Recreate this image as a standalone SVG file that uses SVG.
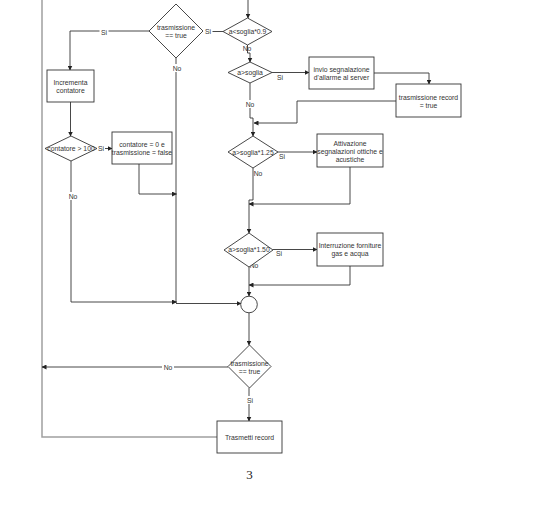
<svg xmlns="http://www.w3.org/2000/svg" width="546" height="508" viewBox="0 0 546 508">
<style>
.bg{fill:#fff}
.n{fill:#fff;stroke:#333;stroke-width:0.9}
.c{fill:none;stroke:#333;stroke-width:0.9}
.g{fill:none;stroke:#a0a0a0;stroke-width:1.5}
.a{marker-end:url(#ah)}
text{font-family:"Liberation Sans",Arial,sans-serif;font-size:6.8px;fill:#333;text-anchor:middle;dominant-baseline:central}
.lbg{fill:#fff}
.pg{font-family:"Liberation Serif","Times New Roman",serif;font-size:13px;fill:#222}
</style>
<defs>
<marker id="ah" markerUnits="userSpaceOnUse" markerWidth="5" markerHeight="5" refX="4.5" refY="2.5" orient="auto">
<path d="M0,0 L5,2.5 L0,5 z" fill="#222"/>
</marker>
</defs>
<rect class="bg" x="0" y="0" width="546" height="508"/>
<g id="connectors">
<path class="g" d="M42,0 V437 H217"/>
<path class="c a" d="M248,0 V18"/>
<path class="c a" d="M223,31.5 H204"/>
<path class="c a" d="M149,31 H70 V70"/>
<path class="c a" d="M70.5,102 V136"/>
<path class="c a" d="M97,148.5 H112"/>
<path class="c a" d="M139,164 V194 H176.5"/>
<path class="c" d="M176,58 V303"/>
<path class="c a" d="M71,161 V302 H176.5"/>
<path class="c a" d="M176,303.5 H241"/>
<path class="c a" d="M247.5,45 V53 H250 V62"/>
<path class="c a" d="M272,72.5 H309"/>
<path class="c a" d="M374,73 H429 V84"/>
<path class="c a" d="M396,101 H297 V123 H254"/>
<path class="c a" d="M250,83 V118 H253 V136"/>
<path class="c a" d="M278,152 H317"/>
<path class="c a" d="M350,167 V204 H249"/>
<path class="c a" d="M253,168 V200 H249 V233"/>
<path class="c a" d="M273,249.5 H317"/>
<path class="c a" d="M350,266 V285 H249"/>
<path class="c a" d="M249,267 V296"/>
<path class="c a" d="M249,313 V345"/>
<path class="c a" d="M228,367 H42"/>
<path class="c a" d="M249,388 V421"/>
</g>
<g id="labels">
<rect class="lbg" x="203.5" y="27.5" width="9" height="8"/>
<text x="208" y="31.5">Si</text>
<rect class="lbg" x="99.5" y="28" width="9" height="8"/>
<text x="104" y="32">Si</text>
<rect class="lbg" x="171" y="64" width="10" height="8"/>
<text x="177" y="68">No</text>
<text x="247" y="48.5">No</text>
<rect class="lbg" x="276" y="73.5" width="8" height="8"/>
<text x="280" y="77.5">Si</text>
<rect class="lbg" x="245" y="100" width="10" height="8"/>
<text x="250" y="104">No</text>
<text x="282" y="156.5">Si</text>
<text x="258" y="173">No</text>
<rect class="lbg" x="97" y="144.5" width="8" height="8"/>
<text x="101" y="148.5">Si</text>
<rect class="lbg" x="67" y="192" width="12" height="8"/>
<text x="73" y="196">No</text>
<text x="279" y="253">Si</text>
<text x="254" y="265">No</text>
<rect class="lbg" x="162" y="363" width="12" height="8"/>
<text x="168" y="367">No</text>
<rect class="lbg" x="245" y="396" width="10" height="8"/>
<text x="250" y="400">Si</text>
</g>
<g id="n-d09">
<path class="n" d="M247.5,18 L272,31.5 L247.5,45 L223,31.5 z"/>
<text x="247.5" y="31.5">a&lt;soglia*0.9</text>
</g>
<g id="n-tx1">
<path class="n" d="M176,4 L203,31 L176,58 L149,31 z"/>
<text x="176" y="27.5">trasmissione</text>
<text x="176" y="35">== true</text>
</g>
<g id="n-inc">
<rect class="n" x="47" y="70" width="47" height="32"/>
<text x="70.5" y="82">Incrementa</text>
<text x="70.5" y="90">contatore</text>
</g>
<g id="n-cnt">
<path class="n" d="M71,136 L97,148.5 L71,161 L45,148.5 z"/>
<text x="71" y="148.5">contatore &gt; 100</text>
</g>
<g id="n-reset">
<rect class="n" x="112" y="132" width="60" height="32"/>
<text x="142" y="144">contatore = 0 e</text>
<text x="142" y="152">trasmissione = false</text>
</g>
<g id="n-soglia">
<path class="n" d="M250,62 L272,72.5 L250,83 L228,72.5 z"/>
<text x="250" y="72.5">a&gt;soglia</text>
</g>
<g id="n-invio">
<rect class="n" x="309" y="57" width="65" height="32"/>
<text x="341.5" y="69.5">invio segnalazione</text>
<text x="341.5" y="77.5">d'allarme al server</text>
</g>
<g id="n-trrec">
<rect class="n" x="396" y="84" width="65" height="33"/>
<text x="428.5" y="97">trasmissione record</text>
<text x="428.5" y="105">= true</text>
</g>
<g id="n-d125">
<path class="n" d="M253,136 L278,152 L253,168 L228,152 z"/>
<text x="253" y="152">a&gt;soglia*1.25</text>
</g>
<g id="n-attiv">
<rect class="n" x="317" y="134" width="66" height="33"/>
<text x="350" y="143">Attivazione</text>
<text x="350" y="151">segnalazioni ottiche e</text>
<text x="350" y="159">acustiche</text>
</g>
<g id="n-d150">
<path class="n" d="M249,233 L273,250 L249,267 L224,250 z"/>
<text x="249" y="249.5">a&gt;soglia*1.50</text>
</g>
<g id="n-interr">
<rect class="n" x="317" y="233" width="66" height="33"/>
<text x="350" y="245">Interruzione forniture</text>
<text x="350" y="253">gas e acqua</text>
</g>
<g id="n-join">
<circle class="n" cx="249" cy="304.5" r="8.3"/>
</g>
<g id="n-tx2">
<path class="n" d="M249.5,345 L271,366.5 L249.5,388 L228,366.5 z"/>
<text x="249.5" y="363">trasmissione</text>
<text x="249.5" y="371">== true</text>
</g>
<g id="n-send">
<rect class="n" x="217" y="421" width="65" height="32"/>
<text x="249.5" y="437">Trasmetti record</text>
</g>
<text class="pg" x="249.5" y="474">3</text>
</svg>
